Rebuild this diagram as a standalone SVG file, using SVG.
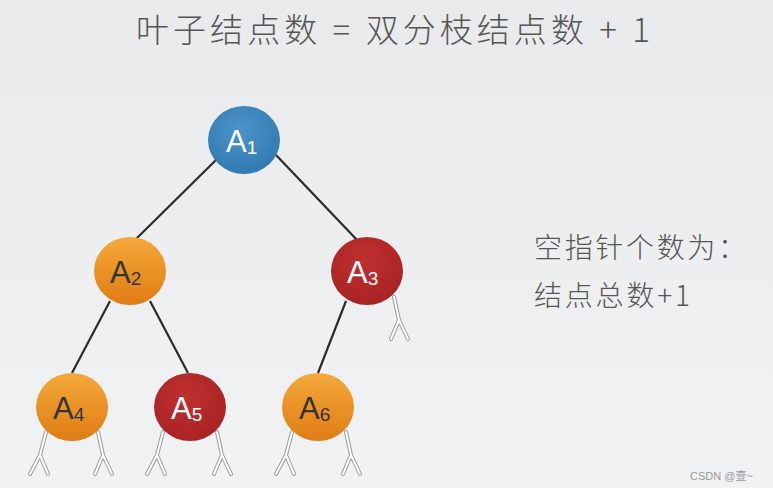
<svg xmlns="http://www.w3.org/2000/svg" width="773" height="488" viewBox="0 0 773 488">
<style>
.t{font-family:"Noto Sans CJK SC","Liberation Sans",sans-serif;fill:#555;font-weight:300}
.lbl{font-family:"Liberation Sans",Arial,sans-serif;font-size:31px}
.sub{font-size:19px}
.edge{stroke:#2b2b2b;stroke-width:2.2;fill:none}
.nullo{stroke:#9a9a9a;stroke-width:4;fill:none;stroke-linecap:round;stroke-linejoin:round}
.nulli{stroke:#ffffff;stroke-width:2;fill:none;stroke-linecap:round;stroke-linejoin:round}
.dark{fill:#333}
.light{fill:#fff}
</style>
<defs>
<linearGradient id="bg" x1="0" y1="0" x2="0" y2="1">
<stop offset="0" stop-color="#e9eaeb"/>
<stop offset="1" stop-color="#f1f2f3"/>
</linearGradient>
<radialGradient id="blue" cx="0.45" cy="0.35" r="0.7">
<stop offset="0" stop-color="#4a93c8"/>
<stop offset="1" stop-color="#3278b0"/>
</radialGradient>
<linearGradient id="orange" x1="0" y1="0" x2="0" y2="1">
<stop offset="0" stop-color="#f4a93a"/>
<stop offset="1" stop-color="#e07c14"/>
</linearGradient>
<radialGradient id="red" cx="0.45" cy="0.35" r="0.7">
<stop offset="0" stop-color="#be3030"/>
<stop offset="1" stop-color="#a82222"/>
</radialGradient>
<g id="nul">
<path class="nullo" d="M0,0 L5,23 M-3,42 L5,23 L14,42"/>
<path class="nulli" d="M0,0 L5,23 M-3,42 L5,23 L14,42"/>
</g>
<g id="nulL">
<path class="nullo" d="M0,0 L-6,23 M-16,42 L-6,23 L2,42"/>
<path class="nulli" d="M0,0 L-6,23 M-16,42 L-6,23 L2,42"/>
</g>
</defs>
<rect width="773" height="488" fill="url(#bg)"/>
<text class="t" x="136" y="42" font-size="33" textLength="514" lengthAdjust="spacing">叶子结点数 = 双分枝结点数 + 1</text>
<g id="edges">
<line class="edge" x1="216" y1="160" x2="136" y2="239"/>
<line class="edge" x1="276" y1="155" x2="358" y2="241"/>
<line class="edge" x1="110" y1="301" x2="72" y2="373"/>
<line class="edge" x1="150" y1="301" x2="188" y2="373"/>
<line class="edge" x1="346" y1="301" x2="318" y2="373"/>
</g>
<g id="nulls">
<use href="#nul" x="394" y="297"/>
<use href="#nulL" x="46" y="432"/>
<use href="#nul" x="98" y="432"/>
<use href="#nulL" x="163" y="432"/>
<use href="#nul" x="217" y="432"/>
<use href="#nulL" x="292" y="432"/>
<use href="#nul" x="346" y="432"/>
</g>
<g id="A1"><ellipse cx="244" cy="140" rx="36" ry="34" fill="url(#blue)"/><text class="lbl light" x="226" y="152">A<tspan class="sub" dy="2">1</tspan></text></g>
<g id="A2"><ellipse cx="130" cy="271" rx="36" ry="34" fill="url(#orange)"/><text class="lbl dark" x="110" y="283">A<tspan class="sub" dy="2">2</tspan></text></g>
<g id="A3"><ellipse cx="367" cy="271" rx="36" ry="34" fill="url(#red)"/><text class="lbl light" x="347" y="283">A<tspan class="sub" dy="2">3</tspan></text></g>
<g id="A4"><ellipse cx="72" cy="407" rx="36" ry="34" fill="url(#orange)"/><text class="lbl dark" x="53" y="419">A<tspan class="sub" dy="2">4</tspan></text></g>
<g id="A5"><ellipse cx="190" cy="407" rx="36" ry="34" fill="url(#red)"/><text class="lbl light" x="171" y="419">A<tspan class="sub" dy="2">5</tspan></text></g>
<g id="A6"><ellipse cx="318" cy="407" rx="36" ry="34" fill="url(#orange)"/><text class="lbl dark" x="299" y="419">A<tspan class="sub" dy="2">6</tspan></text></g>
<text class="t" x="534" y="258" font-size="28" textLength="212" lengthAdjust="spacing">空指针个数为：</text>
<text class="t" x="534" y="306" font-size="28" textLength="156" lengthAdjust="spacing">结点总数+1</text>
<text x="690" y="480" font-family="Liberation Sans, Noto Sans CJK SC, sans-serif" font-size="11" fill="#999">CSDN @壹~</text>
</svg>
